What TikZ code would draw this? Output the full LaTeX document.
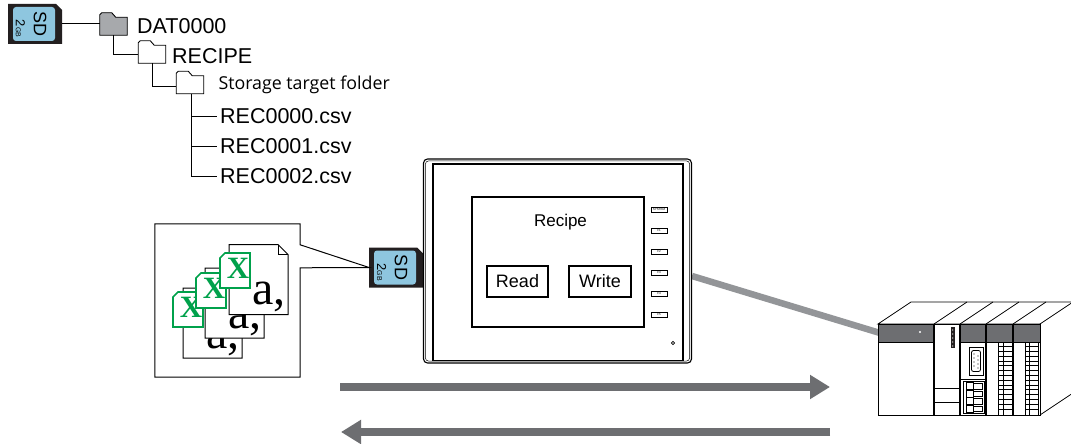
\documentclass[tikz,border=0pt]{standalone}
\usepackage{fontspec}
\setmainfont{Liberation Sans}
\newfontfamily\lettersfont{Liberation Serif}
\newfontfamily\labelfont{Open Sans}
\usetikzlibrary{arrows.meta,calc}
\definecolor{cardblack}{HTML}{231F20}
\definecolor{cardblue}{HTML}{8EC6DF}
\definecolor{foldergray}{HTML}{A7A9AC}
\definecolor{xlgreen}{HTML}{00A14B}
\definecolor{arrowgray}{HTML}{6D6E71}
\definecolor{cablegray}{HTML}{939598}
\definecolor{bandgray}{HTML}{6D6E71}
\newcommand\fs[1]{\fontsize{#1}{#1}\selectfont}

% folder icon on an invisible box node: name, position, fill
\newcommand\folder[3]{%
  \node[folderbox] (#1) at (#2) {};
  \draw[treeline, fill=#3] (#1.south west) -- ($(#1.north west)+(0,2)$)
    -- ($(#1.north west)+(2,0)$) -- ($(#1.north west)+(12,0)$)
    -- ($(#1.north west)+(16,4.5)$) -- ($(#1.north east)+(0,4.5)$)
    -- (#1.south east) -- cycle;}

% SD memory card: name, position
\newcommand\sdcard[2]{%
  \node[cardbox] (#1) at (#2) {};
  \fill[cardblack] (#1.south west) -- (#1.north west) -- ($(#1.north east)+(-6,0)$)
    -- ($(#1.north east)+(0,6)$) -- (#1.south east) -- cycle;
  \fill[cardblue, rounded corners=3pt] ($(#1.north west)+(5,3)$) rectangle ($(#1.south east)+(-7,-3)$);
  \node[rotate=-90, inner sep=0, font=\fs{18}] at ($(#1.center)+(5,0)$) {SD};
  \node[rotate=-90, inner sep=0, font=\fs{13}] at ($(#1.center)+(-14.5,4.5)$) {2{\fs{7}GB}};}

% data sheet with folded corner: name, top left corner
\newcommand\sheet[2]{%
  \node[sheetbox, anchor=north west] (#1) at (#2) {};
  \draw[docline, fill=white] (#1.north west) -- ($(#1.north east)+(-10,0)$)
    -- ($(#1.north east)+(0,10)$) -- (#1.south east) -- (#1.south west) -- cycle;
  \draw[docline] ($(#1.north east)+(-10,0)$) |- ($(#1.north east)+(0,10)$);
  \node[font=\lettersfont\fs{48}, anchor=base east, inner sep=0] at ($(#1.north west)+(57,60)$) {a,};}

% spreadsheet icon: name, top left corner
\newcommand\xlicon[2]{%
  \node[iconbox, anchor=north west] (#1) at (#2) {};
  \draw[xlgreen, line width=1.6pt, fill=white] ($(#1.north west)+(5,0)$) -- (#1.north east)
    -- (#1.south east) -- (#1.south west) -- ($(#1.north west)+(0,5)$) -- cycle;
  \node[font=\lettersfont\bfseries\fs{31}, text=xlgreen, inner sep=0] at ($(#1.center)+(3,-2)$) {X};}

\begin{document}
\begin{tikzpicture}[x=1pt, y=-1pt,
  treeline/.style={draw=black, line width=0.9pt},
  folderbox/.style={minimum width=27.5pt, minimum height=22.5pt, inner sep=0pt, outer sep=0pt},
  cardbox/.style={minimum width=54pt, minimum height=40pt, inner sep=0pt, outer sep=0pt},
  treetext/.style={anchor=base west, inner xsep=3pt, inner ysep=0pt, font=\fs{21.5}},
  docline/.style={draw=black, line width=1pt},
  sheetbox/.style={minimum width=59pt, minimum height=70pt, inner sep=0pt, outer sep=0pt},
  iconbox/.style={minimum width=30pt, minimum height=35pt, inner sep=0pt, outer sep=0pt},
  button/.style={draw, line width=1.3pt, minimum width=61pt, minimum height=31pt, inner sep=0pt, font=\fs{18}},
  fkey/.style={draw, line width=0.7pt, minimum width=16pt, minimum height=5pt, inner sep=0pt, font=\fs{3}},
  bigarrow/.style={draw=arrowgray, line width=8pt, -{Triangle[length=20pt,width=23pt]}},
  plcline/.style={line width=0.8pt}]

\fill[white] (0,0) rectangle (1071,444);
\useasboundingbox (0,0) rectangle (1071,444);

% ---------- folder tree on the card ----------
\sdcard{sd1}{35,24}
\folder{dat}{113.5,24}{foldergray}
\folder{recipe}{152,52}{white}
\folder{storage}{190,82.5}{white}
\node[treetext] (datlbl) at (134,33.3) {DAT0000};
\node[treetext] (reclbl) at (169,63.3) {RECIPE};
\node[treetext, font=\labelfont\fs{17.8}] (storelbl) at (215.3,89.3) {Storage target folder};
\node[treetext] (f0) at (217,123) {REC0000.csv};
\node[treetext] (f1) at (217,153.3) {REC0001.csv};
\node[treetext] (f2) at (217,183.3) {REC0002.csv};

\draw[treeline] ($(sd1.east)+(0,-1)$) -- ($(dat.west)+(0,-1)$);
\draw[treeline] (dat.south) |- ($(recipe.west)+(0,2)$);
\draw[treeline] (recipe.south) |- ($(storage.west)+(0,3.5)$);
\draw[treeline] ($(storage.south)+(1,0)$) |- ([yshift=-1pt]f2.west);
\draw[treeline] ($(storage.south)+(1,0)$) |- ([yshift=-1pt]f0.west);
\draw[treeline] ($(storage.south)+(1,0)$) |- ([yshift=-1pt]f1.west);

% ---------- cable between panel and controller ----------
\coordinate (cabA) at (692,276);
\coordinate (cabB) at (880,333);
\draw[cablegray, line width=6.5pt] (cabA) -- (cabB);

% ---------- stored data callout ----------
\sdcard{sd2}{396,267.5}
\node[minimum width=145pt, minimum height=153pt, inner sep=0pt] (docbox) at (227.5,300.5) {};
\draw[docline, fill=white] ($(docbox.north east)+(0,44)$) -- ($(docbox.south east)$)
  -- (docbox.south west) -- (docbox.north west) -- (docbox.north east)
  -- ($(docbox.north east)+(0,21)$) -- (sd2.west) -- cycle;
\sheet{shA}{183,288}
\xlicon{icA}{173,292}
\sheet{shB}{205,268}
\xlicon{icB}{196,273}
\sheet{shC}{229,244.5}
\xlicon{icC}{220,253}

% ---------- operator panel ----------
\node[draw, line width=1.1pt, rounded corners=4pt, minimum width=268pt, minimum height=204pt, inner sep=0pt, fill=white] (hmi) at (557.5,261) {};
\draw[line width=0.5pt, rounded corners=3pt] ($(hmi.north west)+(2.5,2.5)$) rectangle ($(hmi.south east)+(-2.5,-2.5)$);
\node[draw, line width=1.1pt, minimum width=250pt, minimum height=196.5pt, inner sep=0pt] (bezel) at (558,262.25) {};
\node[draw, line width=1.1pt, minimum width=172pt, minimum height=130pt, inner sep=0pt] (screen) at (558,262) {};
\node[font=\fs{17}, anchor=base, inner sep=0pt] (title) at (560.5,226.7) {Recipe};
\node[button] (read) at (517.5,281.5) {Read};
\node[button, minimum width=62pt] (write) at (600,281.5) {Write};
\node[fkey] (ksys) at (659,209.5) {SYSTEM};
\node[fkey] (kf1) at (659,230.5) {F1};
\node[fkey] (kf2) at (659,251.5) {F2};
\node[fkey] (kf3) at (659,272.5) {F3};
\node[fkey] (kf4) at (659,293.5) {F4};
\node[fkey] (kf5) at (659,314.5) {F5};
\draw[line width=0.7pt] (673,343) circle (1.6);

% ---------- controller rack ----------
\begin{scope}[plcline]
  % top and side faces
  \draw[fill=white] (878,324) -- (911,302) -- (1080,302) -- (1080,324) -- (1040,324) -- cycle;
  \draw[fill=white] (1040,324) -- (1073,302) -- (1073,393) -- (1040,415) -- cycle;
  \foreach \x in {934,960,986,1013} \draw (\x,324) -- ++(33,-22);
  % front face
  \node[draw, line width=0.8pt, fill=white, minimum width=162pt, minimum height=91pt, inner sep=0pt, outer sep=0pt, anchor=north west] (plc) at (878,324) {};
  \fill[bandgray] (878,324) rectangle (934,342);
  \fill[bandgray] (960,324) rectangle (1040,342);
  \draw (878,342) -- (934,342);
  \draw (960,342) -- (1040,342);
  \draw (plc.north west) rectangle (plc.south east);
  \foreach \x in {934,960,986,1013} \draw[line width=1.2pt] (\x,324) -- (\x,415);
  \fill[white] (920,332) circle (1.2);
  % processor module
  \fill[cardblack] (951,327) rectangle (954.5,348);
  \foreach \y in {330,334,338,342,346} \fill[white] (952.75,\y) circle (0.6);
  \draw (934,388) -- (960,388);
  \draw (934,402) -- (960,402);
  % communication module
  \draw (969,347) rectangle (983,375);
  \draw[rounded corners=2pt] (971.5,350.5) rectangle (980.5,371.5);
  \foreach \y in {354,358,362,366} \fill (974,\y) circle (0.7);
  \foreach \y in {356,360,364,368} \fill (978,\y) circle (0.7);
  \draw (960,379.5) -- (986,379.5);
  \draw (963,381.5) rectangle (984.5,413.5);
  \foreach \y in {382.5,390,397.5,405} {
    \draw (966,\y) rectangle (973.5,\y+7);
    \draw (973.5,\y+1) rectangle (982,\y+6.5);
  }
  % input/output modules
  \foreach \a/\b/\c in {998/1003.3/1012,1025/1029.5/1038.5} {
    \draw (\a,342) -- (\a,415);
    \draw (\b,342) -- (\b,415);
    \draw (\c,342) -- (\c,415);
    \foreach \y in {346.5,351.3,...,412} \draw (\a,\y) -- (\c,\y);
  }
\end{scope}

% ---------- transfer arrows ----------
\coordinate (wr0) at (340,387);
\coordinate (wr1) at (830,387);
\coordinate (rd0) at (830,432);
\coordinate (rd1) at (341,432);
\draw[bigarrow] (wr0) -- (wr1);
\draw[bigarrow] (rd0) -- (rd1);
\end{tikzpicture}
\end{document}
